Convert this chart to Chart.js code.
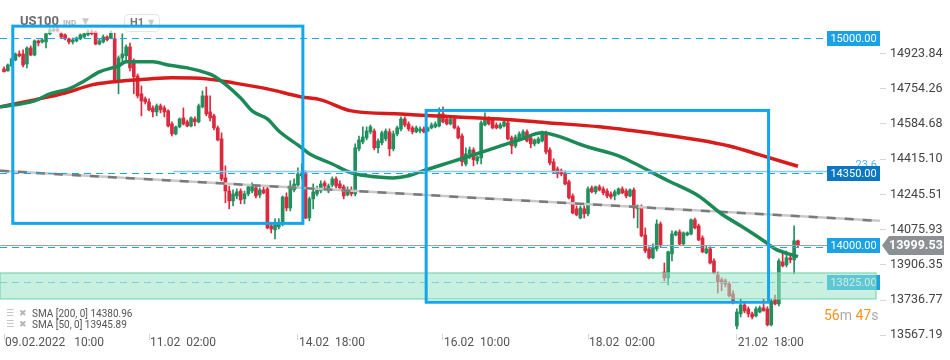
<!DOCTYPE html>
<html>
<head>
<meta charset="utf-8">
<script src="https://cdn.jsdelivr.net/npm/chart.js@4.4.1/dist/chart.umd.min.js"></script>
<style>
  html, body { margin: 0; padding: 0; background: #fff; }
</style>
</head>
<body>
<canvas id="chart" width="950" height="360"></canvas>
<script>
// hourly candles, 09.02.2022 10:00 -> 21.02 19:00
const opens = [
  14850, 14840, 14865, 14893, 14922, 14922, 14874, 14951, 14917, 14985, 14980, 14980, 15019, 15033, 15043, 15019, 15014, 14995, 14980, 14985,
  14995, 15004, 15014, 15028, 15028, 14970, 14980, 15004, 14999, 14995, 14797, 14903, 14913, 14956, 14884, 14816, 14730, 14706, 14691, 14662,
  14643, 14672, 14662, 14648, 14585, 14537, 14571, 14614, 14595, 14575, 14609, 14595, 14667, 14720, 14643,
  14624, 14566, 14513, 14325, 14262, 14214, 14238, 14262, 14224, 14248, 14262, 14277, 14243, 14267, 14272, 14094, 14075, 14089, 14103, 14233,
  14180, 14267, 14291, 14335, 14349, 14132, 14224, 14248, 14262, 14301, 14262, 14291, 14320, 14296, 14282, 14243, 14267, 14248, 14465, 14498,
  14518, 14547, 14551, 14470, 14494, 14513, 14547, 14465, 14537, 14561, 14609, 14585, 14566, 14547, 14551, 14561,
  14551, 14566, 14571, 14575, 14633, 14609, 14585, 14609, 14566, 14527, 14392, 14441, 14460, 14407, 14421, 14580, 14609, 14604, 14580, 14566,
  14575, 14590, 14518, 14479, 14508, 14522, 14547, 14518, 14489, 14494, 14503, 14542, 14460, 14402, 14368, 14359, 14349, 14306, 14238, 14176,
  14132, 14176, 14152, 14277, 14258, 14282, 14272, 14262, 14248, 14238, 14248, 14272, 14262, 14238, 14267,
  14176, 14185, 14050, 13983, 13940, 13983, 14103, 13872, 13843, 13959, 14050, 14065, 14007, 14050, 14055, 14123, 14094, 14036, 13964, 13983,
  13925, 13858, 13834, 13829, 13814, 13766, 13612, 13670, 13713, 13694, 13670, 13660, 13679, 13699, 13694, 13617, 13737, 13718, 13920, 13906,
  13940, 13930, 14022
];
const highs = [
  14860, 14874, 14903, 14927, 14937, 14942, 14956, 14961, 14990, 14990, 14995, 15023, 15048, 15048, 15052, 15028, 15019, 14999, 14999, 15004,
  15019, 15023, 15038, 15038, 15033, 14995, 15014, 15009, 15033, 15023, 14913, 15019, 14966, 14975, 14898, 14826, 14768, 14715, 14706, 14672,
  14681, 14681, 14672, 14653, 14595, 14575, 14614, 14662, 14604, 14619, 14619, 14681, 14744, 14763, 14720,
  14633, 14575, 14542, 14383, 14286, 14267, 14272, 14272, 14262, 14291, 14301, 14291, 14277, 14282, 14282, 14108, 14128, 14128, 14238, 14253,
  14311, 14320, 14373, 14392, 14359, 14233, 14296, 14286, 14311, 14311, 14296, 14330, 14330, 14311, 14291, 14282, 14282, 14489, 14527, 14571,
  14571, 14580, 14561, 14513, 14551, 14561, 14561, 14551, 14575, 14619, 14619, 14595, 14575, 14575, 14571, 14571,
  14571, 14590, 14595, 14662, 14667, 14619, 14619, 14619, 14575, 14537, 14470, 14474, 14470, 14431, 14600, 14638, 14619, 14614, 14590, 14590,
  14600, 14600, 14527, 14532, 14547, 14556, 14556, 14527, 14513, 14522, 14551, 14551, 14470, 14417, 14378, 14368, 14359, 14315, 14248, 14190,
  14190, 14190, 14282, 14286, 14286, 14291, 14282, 14272, 14258, 14267, 14277, 14282, 14272, 14272, 14277,
  14195, 14195, 14084, 13993, 14007, 14123, 14113, 13915, 13973, 14070, 14070, 14075, 14065, 14065, 14128, 14132, 14103, 14046, 13998, 13993,
  13935, 13872, 13843, 13838, 13824, 13781, 13694, 13742, 13723, 13704, 13679, 13704, 13708, 13742, 13704, 13742, 13761, 13935, 13964, 13973,
  13949, 14094, 14026
];
const lows = [
  14836, 14840, 14860, 14889, 14908, 14860, 14855, 14913, 14913, 14961, 14975, 14951, 15014, 15028, 15028, 14999, 14990, 14970, 14970, 14980,
  14990, 14999, 15009, 15014, 14966, 14966, 14975, 14985, 14995, 14792, 14730, 14879, 14889, 14840, 14730, 14710, 14624, 14681, 14648, 14619,
  14624, 14638, 14619, 14571, 14527, 14532, 14566, 14580, 14571, 14571, 14575, 14590, 14662, 14624, 14600,
  14556, 14503, 14311, 14205, 14176, 14190, 14224, 14200, 14200, 14238, 14253, 14229, 14229, 14248, 14079, 14060, 14031, 14079, 14094, 14166,
  14166, 14258, 14282, 14320, 14128, 14118, 14176, 14238, 14253, 14277, 14253, 14282, 14277, 14267, 14224, 14238, 14238, 14238, 14455, 14489,
  14508, 14537, 14460, 14445, 14484, 14503, 14431, 14455, 14527, 14551, 14571, 14551, 14537, 14542, 14542, 14542,
  14547, 14561, 14566, 14571, 14590, 14580, 14580, 14561, 14513, 14383, 14383, 14417, 14383, 14392, 14392, 14575, 14580, 14561, 14561, 14561,
  14571, 14508, 14441, 14470, 14503, 14518, 14498, 14470, 14479, 14489, 14498, 14441, 14388, 14349, 14325, 14335, 14291, 14224, 14152, 14142,
  14128, 14132, 14142, 14253, 14248, 14262, 14243, 14229, 14224, 14219, 14243, 14248, 14229, 14233, 14132,
  14084, 14041, 13964, 13935, 13935, 13973, 13993, 13829, 13810, 13925, 14046, 14002, 14002, 14046, 14050, 14079, 14022, 13964, 13959, 13911,
  13863, 13771, 13781, 13800, 13752, 13718, 13598, 13655, 13675, 13655, 13646, 13655, 13675, 13684, 13612, 13612, 13713, 13708, 13896, 13896,
  13915, 13863, 13993
];
const closes = [
  14836, 14869, 14898, 14922, 14913, 14869, 14951, 14917, 14985, 14975, 14990, 15019, 15038, 15043, 15033, 15004, 14995, 14980, 14990, 14999,
  15014, 15019, 15028, 15019, 14970, 14985, 15004, 14990, 15023, 14797, 14903, 14922, 14956, 14855, 14812, 14720, 14696, 14691, 14653, 14643,
  14672, 14653, 14643, 14575, 14537, 14571, 14609, 14585, 14575, 14614, 14595, 14672, 14720, 14633, 14614,
  14566, 14508, 14320, 14262, 14214, 14248, 14258, 14219, 14248, 14282, 14286, 14238, 14267, 14253, 14084, 14079, 14103, 14103, 14233, 14180,
  14286, 14296, 14344, 14349, 14132, 14224, 14258, 14267, 14296, 14286, 14286, 14320, 14286, 14277, 14238, 14267, 14248, 14470, 14508, 14522,
  14551, 14571, 14470, 14503, 14542, 14551, 14465, 14537, 14566, 14609, 14580, 14561, 14547, 14566, 14561, 14547,
  14566, 14580, 14585, 14633, 14595, 14585, 14609, 14566, 14518, 14402, 14441, 14460, 14412, 14426, 14590, 14609, 14585, 14566, 14566, 14580,
  14595, 14513, 14479, 14522, 14537, 14547, 14503, 14489, 14508, 14513, 14542, 14450, 14397, 14354, 14344, 14344, 14296, 14229, 14156, 14147,
  14180, 14152, 14272, 14258, 14282, 14267, 14253, 14238, 14233, 14258, 14272, 14253, 14238, 14267, 14180,
  14190, 14046, 13973, 13940, 13988, 14103, 13998, 13843, 13969, 14055, 14065, 14007, 14060, 14060, 14123, 14084, 14026, 13969, 13983, 13915,
  13867, 13824, 13819, 13814, 13757, 13732, 13679, 13713, 13684, 13670, 13655, 13694, 13699, 13684, 13617, 13732, 13718, 13925, 13901, 13940,
  13930, 14022, 13999.53
];

// moving averages, read at a handful of bars
const sma200Idx = [-1, 8, 16, 23, 28, 34, 38, 44, 53, 60, 69, 78, 83, 91, 104, 112, 130, 143, 156, 169, 182, 190, 198, 208];
const sma200Vals = [14667, 14701, 14734, 14773, 14787, 14797, 14802, 14807, 14802, 14783, 14754, 14715, 14701, 14648, 14633, 14624, 14609, 14590, 14571, 14542, 14508, 14479, 14436, 14380.96];
const sma50Idx = [-1, 8, 12, 17, 21, 25, 30, 32, 39, 43, 48, 53, 55, 62, 65, 69, 72, 78, 80, 86, 91, 95, 102, 106, 109, 118, 127, 135, 141, 144, 153, 161, 165, 174, 182, 188, 193, 199, 202, 208];
const sma50Vals = [14667, 14696, 14730, 14754, 14792, 14836, 14865, 14884, 14884, 14869, 14855, 14831, 14816, 14710, 14648, 14609, 14551, 14470, 14441, 14392, 14349, 14335, 14325, 14335, 14354, 14407, 14460, 14508, 14542, 14532, 14474, 14431, 14397, 14311, 14238, 14151, 14094, 14022, 13983, 13945.89];

// drawn objects
const trendIdx = [-1.05, 229.5];
const trendVals = [14359, 14118];
const levelValues = [15000, 14350, 14000, 13825];
const fibValue = 14356;
const fibStartIdx = 44.3;
const fibText = '23.6';
const zoneRange = [13742, 13867];
const boxLeft = [2.3, 110.6];
const boxRight = [78.3, 200.3];
const boxTop = [15056, 14650];
const boxBottom = [14106, 13726];
const lastPrice = 13999.53;

// axes
const xTickIdx = [0, 38, 77, 115, 153, 192];
const xTickLabels = ['09.02.2022   10:00', '11.02  02:00', '14.02  18:00', '16.02  10:00', '18.02  02:00', '21.02  18:00'];
const yTickVals = [14923.84, 14754.26, 14584.68, 14415.10, 14245.51, 14075.93, 13906.35, 13736.77, 13567.19];

const legendLines = ['SMA [200, 0] 14380.96', 'SMA [50, 0] 13945.89'];

const UP = '#22905e';
const DOWN = '#db2a3e';
const candleColors = opens.map((o, i) => closes[i] >= o ? UP : DOWN);
const toPoints = (xs, ys) => xs.map((x, i) => ({ x: x, y: ys[i] }));

Chart.defaults.font.family = 'Roboto';

const overlay = {
  id: 'overlay',
  afterDatasetsDraw(chart) {
    const { ctx, chartArea: a } = chart;
    const px = v => chart.scales.x.getPixelForValue(v);
    const py = v => chart.scales.y.getPixelForValue(v);
    const hline = (y, x0, x1) => {
      const yy = Math.round(y) + 0.5;
      ctx.beginPath(); ctx.moveTo(x0, yy); ctx.lineTo(x1, yy); ctx.stroke();
    };
    ctx.save();

    // instrument header
    ctx.fillStyle = 'rgba(255,255,255,0.65)';
    ctx.fillRect(a.left, a.top, 168, 33);
    ctx.textBaseline = 'middle';
    ctx.fillStyle = '#6c6c6c';
    ctx.font = 'bold 13px Roboto';
    ctx.fillText('US100', 20, 22);
    ctx.fillStyle = '#b4b4b4';
    ctx.font = 'bold 8px Roboto';
    ctx.fillText('IND', 63, 23);
    ctx.fillStyle = '#c8c8c8';
    ctx.font = '9px "DejaVu Sans"';
    ctx.fillText('▼', 82, 22);
    ctx.strokeStyle = '#e4e4e4';
    ctx.lineWidth = 1;
    ctx.beginPath(); ctx.roundRect(124.5, 14.5, 35, 17, 4); ctx.stroke();
    ctx.fillStyle = '#777';
    ctx.font = 'bold 11px Roboto';
    ctx.fillText('H1', 130, 23);
    ctx.fillStyle = '#c8c8c8';
    ctx.font = '8px "DejaVu Sans"';
    ctx.fillText('▼', 148, 23);

    // price line
    ctx.strokeStyle = '#a3a3a3';
    ctx.lineWidth = 1;
    hline(py(lastPrice), a.left, a.right);

    // horizontal levels
    ctx.setLineDash([7, 5]);
    const lineColors = ['#1ea6ea', '#1ea6ea', '#1ea6ea', '#4fc0ea'];
    levelValues.forEach((v, i) => {
      ctx.strokeStyle = lineColors[i];
      hline(py(v) + (i === 2 ? 1.5 : 0), a.left, a.right);
    });
    ctx.setLineDash([]);

    // fib level
    ctx.strokeStyle = '#8fcaf0';
    ctx.lineWidth = 1.5;
    hline(py(fibValue), px(fibStartIdx), a.right);
    ctx.fillStyle = '#4fb3ea';
    ctx.font = '11px Roboto';
    ctx.textAlign = 'right';
    ctx.fillText(fibText, a.right - 3, py(fibValue) - 6);

    // level tags
    const tagColors = ['#1aa1e6', '#0b77c0', '#1aa1e6', '#1aa1e6'];
    ctx.textAlign = 'center';
    ctx.font = '11px Roboto';
    levelValues.forEach((v, i) => {
      const y = Math.round(py(v));
      ctx.fillStyle = tagColors[i];
      ctx.fillRect(a.right - 53, y - 7, 53, 15);
      ctx.fillStyle = '#fff';
      ctx.fillText(v.toFixed(2), a.right - 26.5, y + 1);
    });

    // support zone
    const zt = py(zoneRange[1]), zb = py(zoneRange[0]);
    ctx.fillStyle = 'rgba(155,228,199,0.55)';
    ctx.fillRect(a.left, zt, a.right - 4 - a.left, zb - zt);
    ctx.strokeStyle = 'rgba(110,210,170,0.7)';
    ctx.lineWidth = 1.5;
    ctx.strokeRect(a.left, zt, a.right - 4 - a.left, zb - zt);

    // blue frames
    ctx.strokeStyle = '#13a6ee';
    ctx.lineWidth = 3;
    boxLeft.forEach((l, i) => {
      const x0 = px(l), x1 = px(boxRight[i]);
      const y0 = py(boxTop[i]), y1 = py(boxBottom[i]);
      ctx.strokeRect(x0, y0, x1 - x0, y1 - y0);
    });

    // last price tag
    const ly = Math.round(py(lastPrice)) + 0.5;
    const lx = a.right + 2;
    ctx.fillStyle = '#8b9095';
    ctx.beginPath();
    ctx.moveTo(lx, ly);
    ctx.lineTo(lx + 7, ly - 9.5);
    ctx.lineTo(944, ly - 9.5);
    ctx.lineTo(944, ly + 9.5);
    ctx.lineTo(lx + 7, ly + 9.5);
    ctx.closePath();
    ctx.fill();
    ctx.fillStyle = '#fff';
    ctx.font = 'bold 12.5px Roboto';
    ctx.textAlign = 'left';
    ctx.fillText(lastPrice.toFixed(2), lx + 7, ly + 0.5);

    // candle timer
    const parts = [['56', '#f7941d'], ['m', '#aaaaaa'], [' 47', '#f7941d'], ['s', '#aaaaaa']];
    ctx.font = '14px Roboto';
    let tx = 824;
    parts.forEach(p => {
      ctx.fillStyle = p[1];
      ctx.fillText(p[0], tx, 316);
      tx += ctx.measureText(p[0]).width;
    });

    // indicator legend
    legendLines.forEach((t, i) => {
      const y = 314 + i * 11;
      ctx.fillStyle = '#b5b5b5';
      ctx.font = '9px "DejaVu Sans"';
      ctx.fillText('☰', 6, y);
      ctx.fillText('✖', 19, y);
      ctx.fillStyle = '#555';
      ctx.font = '10px Roboto';
      ctx.fillText(t, 32, y);
    });

    ctx.restore();
  }
};

new Chart(document.getElementById('chart'), {
  type: 'bar',
  data: {
    datasets: [
      {
        type: 'line', label: 'SMA 50', order: 1,
        data: toPoints(sma50Idx, sma50Vals),
        borderColor: '#1b8a57', borderWidth: 3.5, pointRadius: 0,
        cubicInterpolationMode: 'monotone'
      },
      {
        type: 'line', label: 'SMA 200', order: 2,
        data: toPoints(sma200Idx, sma200Vals),
        borderColor: '#d81c1c', borderWidth: 3.5, pointRadius: 0,
        cubicInterpolationMode: 'monotone'
      },
      {
        type: 'line', label: 'trend dashes', order: 3,
        data: toPoints(trendIdx, trendVals),
        borderColor: '#7a7a7a', borderWidth: 2.5, borderDash: [9, 9], pointRadius: 0
      },
      {
        type: 'line', label: 'trend', order: 4,
        data: toPoints(trendIdx, trendVals),
        borderColor: '#c9c9c9', borderWidth: 2.5, pointRadius: 0
      },
      {
        label: 'body', order: 5, grouped: false,
        data: opens.map((o, i) => ({ x: i, y: [o, closes[i]] })),
        backgroundColor: candleColors, barThickness: 3, minBarLength: 1, borderWidth: 0
      },
      {
        label: 'wick', order: 6, grouped: false,
        data: opens.map((o, i) => ({ x: i, y: [lows[i], highs[i]] })),
        backgroundColor: candleColors, barThickness: 1, minBarLength: 1, borderWidth: 0
      }
    ]
  },
  options: {
    responsive: false,
    animation: false,
    layout: { padding: 0 },
    plugins: { legend: { display: false }, tooltip: { enabled: false } },
    scales: {
      x: {
        type: 'linear', min: -1.05, max: 229.5, offset: false,
        afterBuildTicks: s => { s.ticks = xTickIdx.map(v => ({ value: v })); },
        afterFit: s => { s.height = 26; s.paddingLeft = 0; s.paddingRight = 0; },
        grid: { drawOnChartArea: false, tickLength: 6, color: '#d8d8d8', offset: false },
        border: { display: false },
        ticks: {
          autoSkip: false, maxRotation: 0, align: 'start', padding: -4, labelOffset: 1,
          color: '#555', font: { size: 12 },
          callback: (v, i) => xTickLabels[i]
        }
      },
      y: {
        position: 'right', min: 13573, max: 15182,
        afterBuildTicks: s => { s.ticks = yTickVals.map(v => ({ value: v })); },
        afterFit: s => { s.width = 70; s.paddingTop = 0; s.paddingBottom = 0; },
        grid: { drawOnChartArea: false, tickLength: 6, color: '#d4d4d4' },
        border: { display: false },
        ticks: { padding: 4, color: '#444', font: { size: 12.5 }, callback: v => v.toFixed(2) }
      }
    }
  },
  plugins: [overlay]
});
</script>
</body>
</html>
